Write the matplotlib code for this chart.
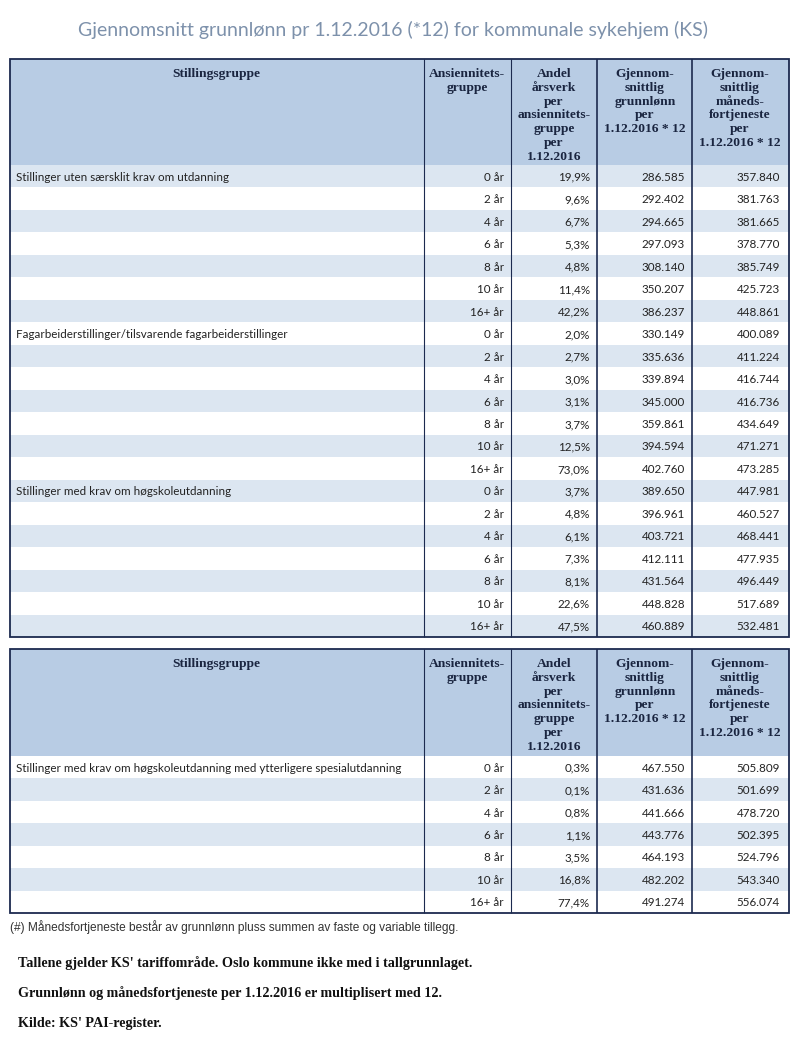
import matplotlib
matplotlib.use("Agg")
import matplotlib.pyplot as plt
from matplotlib.patches import Rectangle

# ---------------- data ----------------
title = "Gjennomsnitt grunnlønn pr 1.12.2016 (*12) for kommunale sykehjem (KS)"
header_cols = [
    ["Stillingsgruppe"],
    ["Ansiennitets-", "gruppe"],
    ["Andel", "årsverk", "per", "ansiennitets-", "gruppe", "per", "1.12.2016"],
    ["Gjennom-", "snittlig", "grunnlønn", "per", "1.12.2016 * 12"],
    ["Gjennom-", "snittlig", "måneds-", "fortjeneste", "per", "1.12.2016 * 12"],
]
groups1 = ["Stillinger uten særsklit krav om utdanning",
           "Fagarbeiderstillinger/tilsvarende fagarbeiderstillinger",
           "Stillinger med krav om høgskoleutdanning"]
groups2 = ["Stillinger med krav om høgskoleutdanning med ytterligere spesialutdanning"]
ansiennitet = ["0 år", "2 år", "4 år", "6 år", "8 år", "10 år", "16+ år"]

andel1 = [19.9, 9.6, 6.7, 5.3, 4.8, 11.4, 42.2,
          2.0, 2.7, 3.0, 3.1, 3.7, 12.5, 73.0,
          3.7, 4.8, 6.1, 7.3, 8.1, 22.6, 47.5]
grunn1 = [286585, 292402, 294665, 297093, 308140, 350207, 386237,
          330149, 335636, 339894, 345000, 359861, 394594, 402760,
          389650, 396961, 403721, 412111, 431564, 448828, 460889]
fortj1 = [357840, 381763, 381665, 378770, 385749, 425723, 448861,
          400089, 411224, 416744, 416736, 434649, 471271, 473285,
          447981, 460527, 468441, 477935, 496449, 517689, 532481]
andel2 = [0.3, 0.1, 0.8, 1.1, 3.5, 16.8, 77.4]
grunn2 = [467550, 431636, 441666, 443776, 464193, 482202, 491274]
fortj2 = [505809, 501699, 478720, 502395, 524796, 543340, 556074]

footnote = "(#) Månedsfortjeneste består av grunnlønn pluss summen av faste og variable tillegg."
notes = ["Tallene gjelder KS' tariffområde. Oslo kommune ikke med i tallgrunnlaget.",
         "Grunnlønn og månedsfortjeneste per 1.12.2016 er multiplisert med 12.",
         "Kilde: KS' PAI-register."]

# ---------------- style ----------------
W, H = 800, 1061
HEAD_FILL = "#b8cce4"
BAND_FILL = "#dce6f1"
LINE = "#1c2a4f"
HEAD_TXT = "#1a2540"
BODY_TXT = "#222222"
BODY_FONT = ["Lato", "DejaVu Sans"]
HEAD_FONT = ["Liberation Serif", "DejaVu Serif"]

col_x = [10, 424, 511, 597, 692, 789]
col_centers = [216, 467, 554, 645, 740]
right_x = [504, 590, 685, 780]


def fmt_num(v):
    return f"{v:,}".replace(",", ".")


def fmt_pct(v):
    return f"{v:.1f}%".replace(".", ",")


fig = plt.figure(figsize=(W / 100, H / 100), dpi=100)
ax = fig.add_axes([0, 0, 1, 1])
ax.set_xlim(0, W)
ax.set_ylim(H, 0)
ax.axis("off")

ax.text(393, 30, title, ha="center", va="center", fontsize=14,
        color="#7d91ab", family=["Lato", "DejaVu Sans"])


def draw_table(top, body_top, body_bottom, groups, andel, grunn, fortj, band_even):
    nrows = len(andel)
    rh = (body_bottom - body_top) / nrows
    # header fill
    ax.add_patch(Rectangle((col_x[0], top), col_x[-1] - col_x[0], body_top - top,
                           facecolor=HEAD_FILL, edgecolor="none", zorder=1))
    # header text
    for ci, lines in enumerate(header_cols):
        for li, ln in enumerate(lines):
            ax.text(col_centers[ci], top + 13.5 + li * 13.8, ln, ha="center",
                    va="center_baseline", fontsize=9.7, fontweight="bold",
                    color=HEAD_TXT, family=HEAD_FONT, zorder=3)
    # body rows
    for i in range(nrows):
        y0 = body_top + i * rh
        shaded = (i % 2 == 0) == band_even
        if shaded:
            ax.add_patch(Rectangle((col_x[0], y0), col_x[-1] - col_x[0], rh,
                                   facecolor=BAND_FILL, edgecolor="none", zorder=1))
        yc = y0 + rh / 2
        k = i % len(ansiennitet)
        if k == 0:
            ax.text(16, yc, groups[i // len(ansiennitet)], ha="left",
                    va="center_baseline", fontsize=8.4, color=BODY_TXT,
                    family=BODY_FONT, zorder=3)
        vals = [ansiennitet[k], fmt_pct(andel[i]), fmt_num(grunn[i]), fmt_num(fortj[i])]
        for rx, v in zip(right_x, vals):
            ax.text(rx, yc, v, ha="right", va="center_baseline", fontsize=8.4,
                    color=BODY_TXT, family=BODY_FONT, zorder=3)
    # vertical lines
    for j, x in enumerate(col_x[1:-1]):
        lw = 0.8 if j < 2 else 1.2
        ax.plot([x, x], [top, body_bottom], color=LINE, lw=lw, zorder=4,
                solid_capstyle="butt")
    # outer border
    ax.add_patch(Rectangle((col_x[0], top), col_x[-1] - col_x[0], body_bottom - top,
                           facecolor="none", edgecolor=LINE, lw=1.3, zorder=5))


draw_table(59, 165, 637, groups1, andel1, grunn1, fortj1, band_even=True)
draw_table(649, 756, 913, groups2, andel2, grunn2, fortj2, band_even=False)

ax.text(10, 927, footnote, ha="left", va="center", fontsize=8.6, color="#333333",
        family=["Liberation Sans Narrow", "Liberation Sans", "DejaVu Sans"])

for i, n in enumerate(notes):
    ax.text(18, 963 + i * 30.5, n, ha="left", va="center", fontsize=10.2,
            fontweight="bold", color="#111111", family=HEAD_FONT)

fig.savefig("out.png", dpi=100, facecolor="white")
